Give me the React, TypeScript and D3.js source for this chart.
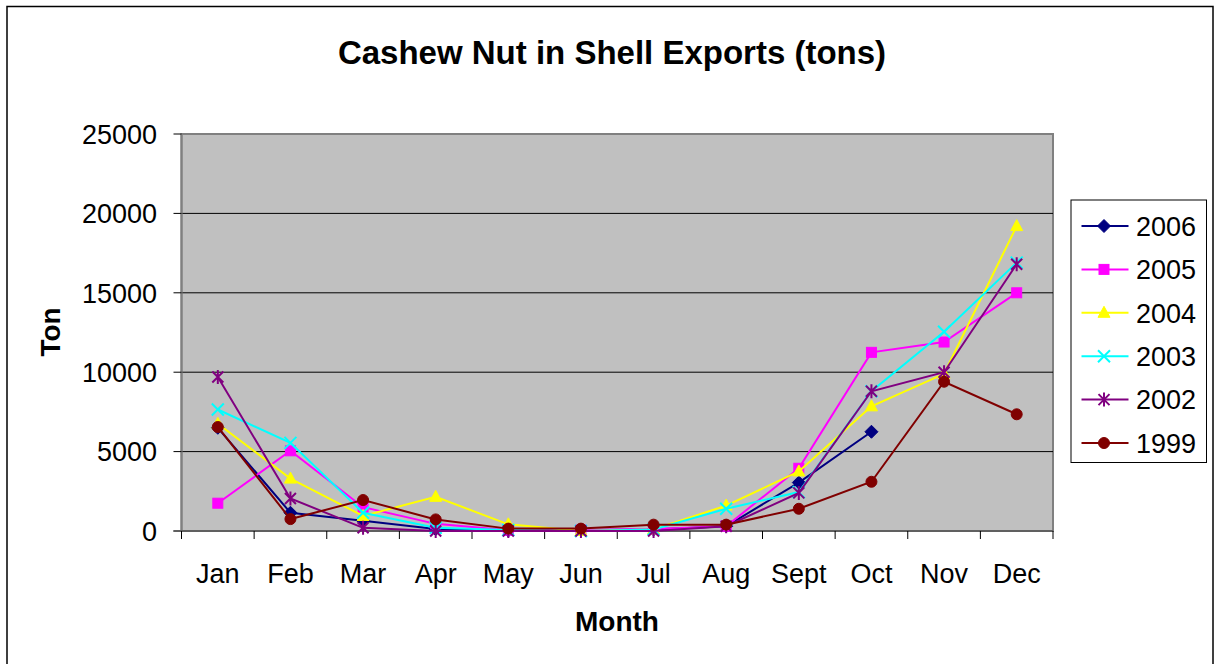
import React from "react";
import * as d3 from "d3";

const months = ["Jan", "Feb", "Mar", "Apr", "May", "Jun", "Jul", "Aug", "Sept", "Oct", "Nov", "Dec"];
const yTicks = [0, 5000, 10000, 15000, 20000, 25000];

const s2006: (number | null)[] = [6500, 1150, 650, 120, 30, 60, 100, 300, 3050, 6250, null, null];
const s2005: (number | null)[] = [1750, 5050, 1500, 450, 50, 60, 120, 300, 3950, 11250, 11900, 15000];
const s2004: (number | null)[] = [6750, 3300, 950, 2150, 420, 0, 100, 1600, 3750, 7850, 9900, 19200];
const s2003: (number | null)[] = [7650, 5550, 1150, 200, 60, 0, 100, 1400, 2450, 8800, 12550, 16900];
const s2002: (number | null)[] = [9700, 2050, 200, 0, 0, 0, 0, 300, 2400, 8800, 10000, 16800];
const s1999: (number | null)[] = [6550, 750, 1950, 730, 150, 150, 400, 400, 1400, 3100, 9400, 7350];

const seriesNames = ["2006", "2005", "2004", "2003", "2002", "1999"];
const seriesValues = [s2006, s2005, s2004, s2003, s2002, s1999];
const seriesColors = ["#000080", "#FF00FF", "#FFFF00", "#00FFFF", "#800080", "#800000"];
const seriesMarkers = ["diamond", "square", "triangle", "x", "star", "circle"];

const FONT = "'Liberation Sans', Arial, sans-serif";

function Marker({ type, x, y, color }: { type: string; x: number; y: number; color: string }) {
  switch (type) {
    case "diamond":
      return <path d={`M${x},${y - 6.5}L${x + 6.5},${y}L${x},${y + 6.5}L${x - 6.5},${y}Z`} fill={color} stroke={color} strokeWidth={1} />;
    case "square":
      return <rect x={x - 5} y={y - 5} width={10} height={10} fill={color} stroke={color} strokeWidth={1} />;
    case "triangle":
      return <path d={`M${x},${y - 6.5}L${x + 6},${y + 4.5}L${x - 6},${y + 4.5}Z`} fill={color} stroke={color} strokeWidth={1} />;
    case "x":
      return (
        <path d={`M${x - 6},${y - 6}L${x + 6},${y + 6}M${x - 6},${y + 6}L${x + 6},${y - 6}`} stroke={color} strokeWidth={2} fill="none" />
      );
    case "star":
      return (
        <path
          d={`M${x - 5.5},${y - 5.5}L${x + 5.5},${y + 5.5}M${x - 5.5},${y + 5.5}L${x + 5.5},${y - 5.5}M${x},${y - 7}L${x},${y + 7}`}
          stroke={color}
          strokeWidth={2}
          fill="none"
        />
      );
    default:
      return <circle cx={x} cy={y} r={5.5} fill={color} stroke={color} strokeWidth={1} />;
  }
}

export default function App() {
  const W = 1220;
  const H = 664;
  const left = 181.5;
  const right = 1053;
  const top = 134;
  const bottom = 531;

  const x = d3.scaleBand<string>().domain(months).range([left, right]).paddingInner(0).paddingOuter(0);
  const y = d3.scaleLinear().domain([0, 25000]).range([bottom, top]);
  const cx = (m: string) => (x(m) as number) + x.bandwidth() / 2;

  const line = d3
    .line<number | null>()
    .defined((d) => d !== null)
    .x((_, i) => cx(months[i]))
    .y((d) => y(d as number));

  const tickXs = d3.range(months.length + 1).map((i) => left + i * x.bandwidth());

  const legX = 1071;
  const legY = 200;
  const legW = 135.5;
  const legH = 262.5;

  return (
    <svg width={W} height={H} style={{ position: "absolute", left: 0, top: 0 }} fontFamily={FONT}>
      <rect x={0} y={0} width={W} height={H} fill="#fff" />
      <rect x={7} y={6.5} width={1206} height={670} fill="#fff" stroke="#000" strokeWidth={1.5} />

      <text x={612} y={64} textAnchor="middle" fontSize={33} fontWeight="bold" fill="#000">
        Cashew Nut in Shell Exports (tons)
      </text>

      <rect x={left} y={top} width={right - left} height={bottom - top} fill="#C0C0C0" stroke="#808080" strokeWidth={2} />

      {yTicks.slice(1, -1).map((t) => (
        <line key={t} x1={left} x2={right} y1={y(t)} y2={y(t)} stroke="#000" strokeWidth={1} />
      ))}

      {/* y axis */}
      <line x1={left} x2={left} y1={top} y2={bottom} stroke="#808080" strokeWidth={2} />
      {yTicks.map((t) => (
        <g key={t}>
          <line x1={left - 8} x2={left} y1={y(t)} y2={y(t)} stroke="#000" strokeWidth={1} />
          <text x={157} y={y(t)} dy="0.36em" textAnchor="end" fontSize={27} fill="#000">
            {t}
          </text>
        </g>
      ))}

      {/* x axis */}
      <line x1={left - 8} x2={right} y1={bottom} y2={bottom} stroke="#606060" strokeWidth={2} />
      {tickXs.map((tx, i) => (
        <line key={i} x1={tx} x2={tx} y1={bottom} y2={bottom + 8} stroke="#000" strokeWidth={1} />
      ))}
      {months.map((m) => (
        <text key={m} x={cx(m)} y={583} textAnchor="middle" fontSize={27} fill="#000">
          {m}
        </text>
      ))}

      <text x={617} y={631} textAnchor="middle" fontSize={28} fontWeight="bold" fill="#000">
        Month
      </text>
      <text transform="translate(60,332) rotate(-90)" textAnchor="middle" fontSize={28} fontWeight="bold" fill="#000">
        Ton
      </text>

      {/* series */}
      {seriesValues.map((vals, si) => (
        <g key={seriesNames[si]}>
          <path d={line(vals) || ""} fill="none" stroke={seriesColors[si]} strokeWidth={2} />
          {vals.map((v, i) =>
            v === null ? null : (
              <Marker key={i} type={seriesMarkers[si]} x={cx(months[i])} y={y(v)} color={seriesColors[si]} />
            )
          )}
        </g>
      ))}

      {/* legend */}
      <rect x={legX} y={legY} width={legW} height={legH} fill="#fff" stroke="#000" strokeWidth={1} />
      {seriesNames.map((n, i) => {
        const ly = 226 + i * 43.4;
        return (
          <g key={n}>
            <line x1={1081.5} x2={1128.5} y1={ly} y2={ly} stroke={seriesColors[i]} strokeWidth={2} />
            <Marker type={seriesMarkers[i]} x={1104} y={ly} color={seriesColors[i]} />
            <text x={1136} y={ly} dy="0.36em" fontSize={27} fill="#000">
              {n}
            </text>
          </g>
        );
      })}
    </svg>
  );
}
